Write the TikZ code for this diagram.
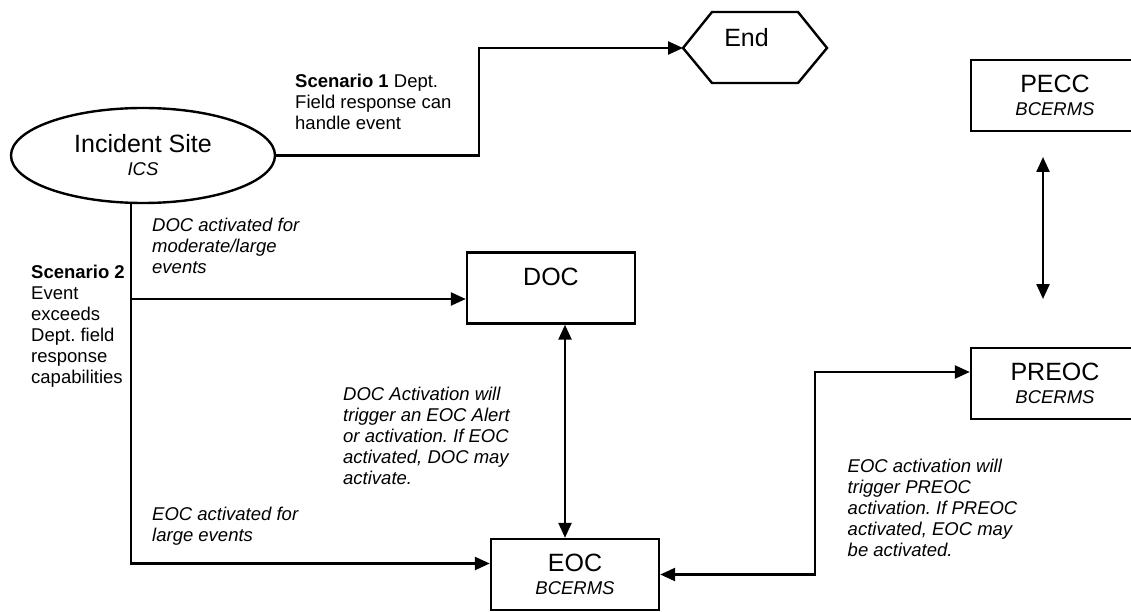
\documentclass[tikz,border=0pt]{standalone}
\usepackage{fontspec}
\setmainfont{Liberation Sans}
\usetikzlibrary{arrows.meta,calc,shapes.geometric}
\newcommand\mysubf{\fontsize{18.5}{20}\selectfont\itshape}
\frenchspacing
\begin{document}
\frenchspacing
\begin{tikzpicture}[x=1pt,y=-1pt,
  line/.style={line width=2.4pt},
  arr/.style={line, -{Triangle[length=15pt,width=13pt]}},
  darr/.style={line, {Triangle[length=15pt,width=13pt]}-{Triangle[length=15pt,width=13pt]}},
  box/.style={draw, line width=2.4pt, minimum width=168pt, minimum height=71pt, align=center, inner sep=0pt, font=\fontsize{25}{22.5}\selectfont},
  note/.style={anchor=north west, align=left, inner sep=0pt, font=\fontsize{18.5}{21}\selectfont},
  itnote/.style={note, font=\fontsize{18.5}{21}\selectfont\itshape}
]
\useasboundingbox (0,0) rectangle (1131,612);
\clip (0,0) rectangle (1131,612);

% nodes
\node[draw, ellipse, line width=2.4pt, minimum width=264pt, minimum height=95pt, inner sep=0pt, align=center, font=\fontsize{25}{23}\selectfont] (site) at (143,155.5) {Incident Site\\{\mysubf ICS}};
\node[box] (doc) at (551,288) {DOC\\{\mysubf\phantom{BCERMS}}};
\node[box] (eoc) at (575,574.5) {EOC\\{\mysubf BCERMS}};
\node[box] (pecc) at (1055,95.5) {PECC\\{\mysubf BCERMS}};
\node[box] (preoc) at (1055,383.5) {PREOC\\{\mysubf BCERMS}};

% End hexagon
\node[inner sep=0pt, font=\fontsize{25}{25}\selectfont] (endlbl) at (746.5,38) {End};
\draw[line] (683,48) coordinate (endtip) -- (712,12) -- (798,12) -- (827,48) -- (798,83) -- (712,83) -- cycle;

% texts
\node[note] (s1) at (295,73.5) {\textbf{Scenario 1} Dept.\\Field response can\\handle event};
\node[note] (s2) at (31,265) {\textbf{Scenario 2}\\Event\\exceeds\\Dept. field\\response\\capabilities};
\node[itnote] (t1) at (152,218) {DOC activated for\\moderate/large\\events};
\node[itnote] (t2) at (343,386.5) {DOC Activation will\\trigger an EOC Alert\\or activation. If EOC\\activated, DOC may\\activate.};
\node[itnote] (t3) at (152,506.5) {EOC activated for\\large events};
\node[itnote] (t4) at (847.5,458.5) {EOC activation will\\trigger PREOC\\activation. If PREOC\\activated, EOC may\\be activated.};

% connectors
\draw[arr] (site.east) -- (479,155.5) |- (endtip);
\coordinate (trunk) at ($(site.south)+(-12,0)$);
\coordinate (eocin) at ($(eoc.west)+(0,-11)$);
\coordinate (docin) at ($(doc.west)+(0,11)$);
\draw[arr] (trunk) |- (eocin);
\draw[arr] (trunk |- docin) -- (docin);
\coordinate (dx) at ($(doc.south)+(14,0)$);
\draw[darr] (dx) -- (dx |- eoc.north);
\coordinate (preocin) at ($(preoc.west)+(0,-11.5)$);
\draw[darr] (eoc.east) -- (815,574.5) |- (preocin);
\coordinate (pa) at (1043,157);
\coordinate (pb) at (1043,299);
\draw[darr] (pa) -- (pb);
\end{tikzpicture}
\end{document}
